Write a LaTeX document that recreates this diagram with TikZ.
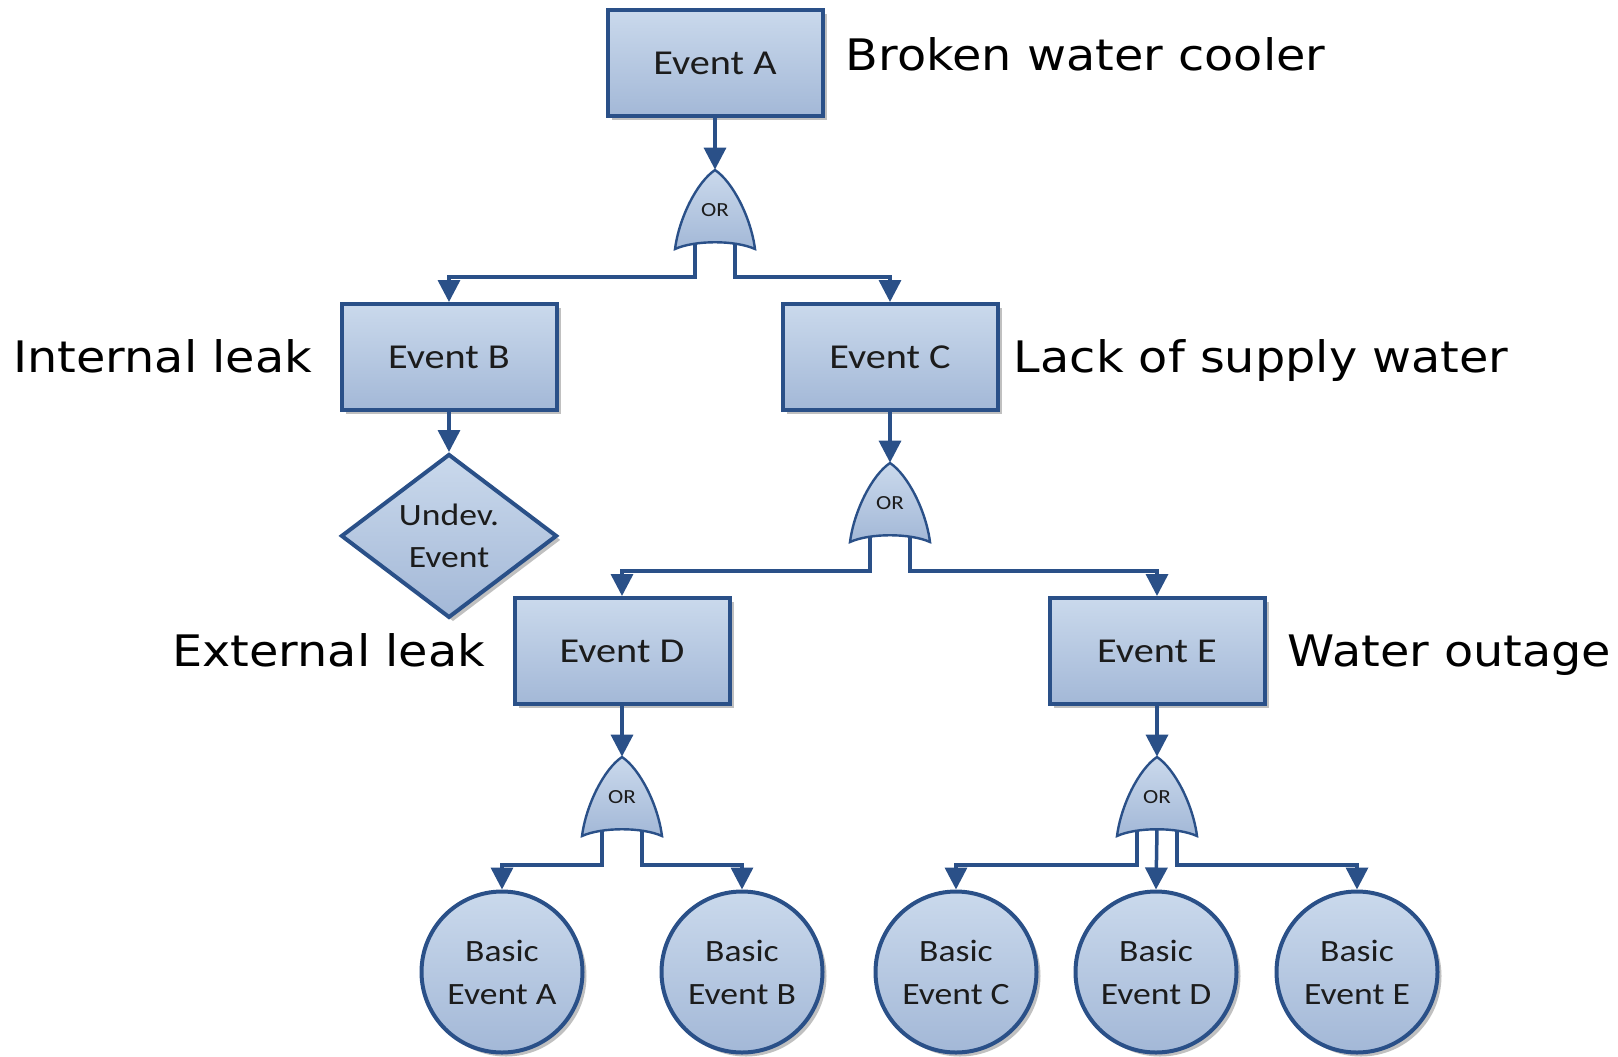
\documentclass[tikz,border=0pt]{standalone}
\usepackage{fontspec}
\newfontfamily\lblfont[FakeStretch=1.1]{DejaVu Sans}
\newfontfamily\evfont[FakeStretch=1.15]{Carlito}
\usetikzlibrary{positioning,arrows.meta,shapes.geometric,shadows,backgrounds}
\definecolor{evtop}{HTML}{CAD9EC}
\definecolor{evbot}{HTML}{A3B8D7}
\definecolor{evline}{HTML}{2A5088}
\definecolor{evtext}{HTML}{1C1C1C}
\tikzset{
  >={Triangle[length=11pt,width=11pt]},
  evshade/.style={top color=evtop,bottom color=evbot,draw=evline},
  evshadow/.style={drop shadow={shadow xshift=2pt,shadow yshift=-2pt,
    fill=black!55,opacity=.45}},
  evbox/.style={evshade,evshadow,rectangle,line width=2pt,minimum width=107.5pt,
    minimum height=53pt,inner sep=0pt,text=evtext,
    font=\evfont\fontsize{17.5}{21}\selectfont},
  undev/.style={evshade,evshadow,diamond,line width=2pt,minimum width=108pt,
    minimum height=80pt,inner sep=0pt,align=center,text=evtext,
    font=\evfont\fontsize{15.5}{21}\selectfont},
  basic/.style={evshade,evshadow,circle,line width=2pt,minimum size=80.5pt,
    inner sep=0pt,align=center,text=evtext,
    font=\evfont\fontsize{15.5}{21.5}\selectfont},
  gate/.style={rectangle,minimum width=40pt,minimum height=40pt,inner sep=0pt,
    text=evtext,font=\evfont\fontsize{10}{12}\selectfont},
  gateline/.style={evshade,line width=1.2pt},
  link/.style={->,draw=evline,line width=1.75pt},
  lbl/.style={inner sep=0pt,text height=15.8pt,text depth=0pt,
    font=\lblfont\fontsize{21.7}{26}\selectfont},
}
% outline of an OR gate round a gate node
\newcommand{\orshape}[1]{%
  \begin{scope}[on background layer,shift={(#1.center)}]
    \path[gateline] (0,-40) .. controls (-18,-28) and (-36,8) .. (-40,39)
      .. controls (-20,30) and (20,30) .. (40,39)
      .. controls (36,8) and (18,-28) .. (0,-40) -- cycle;
  \end{scope}}
\begin{document}
\begin{tikzpicture}[x=0.5pt,y=-0.5pt]
  \useasboundingbox (0,0) rectangle (1618,1056);
  % top event
  \node[evbox] (eA) at (715,63) {Event A};
  \node[lbl,right=10.5pt of eA,yshift=4pt] (tA) {Broken water cooler};
  \node[gate] (gA) at (715,210) {OR};
  \orshape{gA}
  % second level
  \node[evbox] (eB) at (449,357) {Event B};
  \node[lbl,left=13.5pt of eB] (tB) {Internal leak};
  \node[evbox] (eC) at (890,357) {Event C};
  \node[lbl,right=7pt of eC] (tC) {Lack of supply water};
  \node[undev,below=20pt of eB] (uB) {Undev.\\Event};
  \node[gate] (gC) at (890,503) {OR};
  \orshape{gC}
  % third level
  \node[evbox] (eD) at (622,651) {Event D};
  \node[lbl,left=13.5pt of eD] (tD) {External leak};
  \node[evbox] (eE) at (1157,651) {Event E};
  \node[lbl,right=10.5pt of eE] (tE) {Water outage};
  \node[gate] (gD) at (622,797) {OR};
  \orshape{gD}
  \node[gate] (gE) at (1157,797) {OR};
  \orshape{gE}
  % basic events
  \node[basic] (bA) at (502,972) {Basic\\Event A};
  \node[basic] (bB) at (742,972) {Basic\\Event B};
  \node[basic] (bC) at (956,972) {Basic\\Event C};
  \node[basic] (bD) at (1156,972) {Basic\\Event D};
  \node[basic] (bE) at (1357,972) {Basic\\Event E};
  % bars
  \coordinate (jA) at (0,277);
  \coordinate (jC) at (0,571);
  \coordinate (jD) at (0,865);
  % connectors
  \draw[link] (eA.south) -- (gA.north);
  \draw[link] ([xshift=-10pt,yshift=3pt]gA.south) |- (jA -| eB.north) -- (eB.north);
  \draw[link] ([xshift=10pt,yshift=3pt]gA.south) |- (jA -| eC.north) -- (eC.north);
  \draw[link] (eB.south) -- (uB.north);
  \draw[link] (eC.south) -- (gC.north);
  \draw[link] ([xshift=-10pt,yshift=3pt]gC.south) |- (jC -| eD.north) -- (eD.north);
  \draw[link] ([xshift=10pt,yshift=3pt]gC.south) |- (jC -| eE.north) -- (eE.north);
  \draw[link] (eD.south) -- (gD.north);
  \draw[link] (eE.south) -- (gE.north);
  \draw[link] ([xshift=-10pt,yshift=3pt]gD.south) |- (jD -| bA.north) -- (bA.north);
  \draw[link] ([xshift=10pt,yshift=3pt]gD.south) |- (jD -| bB.north) -- (bB.north);
  \draw[link] ([xshift=-10pt,yshift=3pt]gE.south) |- (jD -| bC.north) -- (bC.north);
  \draw[link] ([yshift=4pt]gE.south) -- (bD.north);
  \draw[link] ([xshift=10pt,yshift=3pt]gE.south) |- (jD -| bE.north) -- (bE.north);
\end{tikzpicture}
\end{document}
